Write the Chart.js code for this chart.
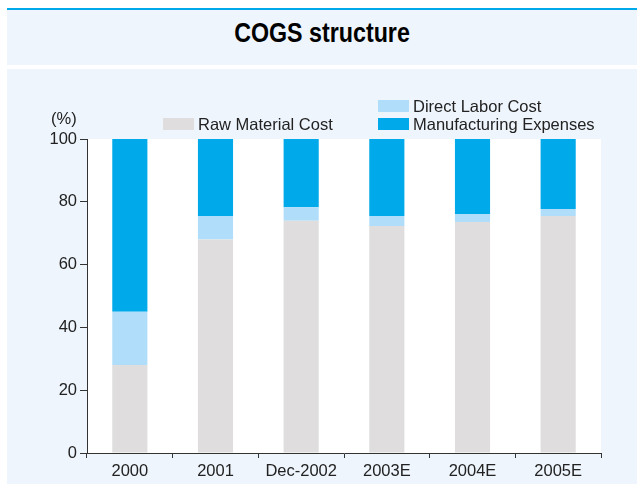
<!DOCTYPE html>
<html>
<head>
<meta charset="utf-8">
<title>COGS structure</title>
<script src="https://cdn.jsdelivr.net/npm/chart.js@4"></script>
<style>
  body { margin: 0; width: 637px; height: 493px; background: #fff; position: relative; overflow: hidden; font-family: "Liberation Sans", Arial, sans-serif; color: #222; }
  .topline { position: absolute; left: 7px; top: 8px; width: 630px; height: 2px; background: #00a9ea; }
  .titlebox { position: absolute; left: 7px; top: 10px; width: 630px; height: 55px; background: #eef5fc; }
  .title { position: absolute; left: 7px; top: 17px; width: 630px; text-align: center; font-weight: bold; font-size: 28px; line-height: 32px; color: #000; transform: scaleX(0.83); }
  .panel { position: absolute; left: 7px; top: 69px; width: 630px; height: 415px; background: #eef5fc; }
  #wrap { position: absolute; left: 0; top: 0; width: 637px; height: 493px; }
  .unit { position: absolute; left: 51px; top: 108px; font-size: 16.5px; line-height: 20px; }
  .lg { position: absolute; font-size: 16.5px; line-height: 18px; white-space: nowrap; }
  .lg i { position: absolute; left: 0; top: 3px; width: 31px; height: 12px; }
  .lg span { position: absolute; left: 35px; top: 0; }
</style>
</head>
<body>
<div class="topline"></div>
<div class="titlebox"></div>
<div class="title">COGS structure</div>
<div class="panel"></div>
<div id="wrap"><canvas id="cogsChart" width="637" height="493"></canvas></div>
<div class="unit">(%)</div>
<div id="legend"></div>
<script>
  // categories and cost shares (%)
  const years = ['2000', '2001', 'Dec-2002', '2003E', '2004E', '2005E'];
  const rawMaterial = [28, 68, 74, 72.3, 73.6, 75.5];
  const directLabor = [17, 7.5, 4.3, 3.2, 2.5, 2.2];
  const manufacturing = [55, 24.5, 21.7, 24.5, 23.9, 22.3];

  const seriesNames = ['Raw Material Cost', 'Direct Labor Cost', 'Manufacturing Expenses'];
  const seriesColors = ['#dfddde', '#b0defa', '#00a9ea'];

  // legend placed by hand, like in the printed report
  const legendSpots = [[163, 115], [378, 97], [378, 115]];
  const legendBox = document.getElementById('legend');
  seriesNames.forEach((name, i) => {
    const el = document.createElement('div');
    el.className = 'lg';
    el.style.left = legendSpots[i][0] + 'px';
    el.style.top = legendSpots[i][1] + 'px';
    el.innerHTML = `<i style="background:${seriesColors[i]}"></i><span>${name}</span>`;
    legendBox.appendChild(el);
  });

  // white plotting area behind the bars
  const plotBackground = {
    id: 'plotBackground',
    beforeDraw(chart) {
      const { ctx, chartArea } = chart;
      ctx.save();
      ctx.fillStyle = '#ffffff';
      ctx.fillRect(chartArea.left, chartArea.top, chartArea.right - chartArea.left, chartArea.bottom - chartArea.top);
      ctx.restore();
    }
  };

  const tickFont = { family: '"Liberation Sans", Arial, sans-serif', size: 16.5 };

  new Chart(document.getElementById('cogsChart'), {
    type: 'bar',
    data: {
      labels: years,
      datasets: [
        { label: seriesNames[0], data: rawMaterial, backgroundColor: seriesColors[0] },
        { label: seriesNames[1], data: directLabor, backgroundColor: seriesColors[1] },
        { label: seriesNames[2], data: manufacturing, backgroundColor: seriesColors[2] }
      ]
    },
    options: {
      responsive: false,
      animation: false,
      layout: { padding: { top: 139, right: 36, bottom: 0, left: 0 } },
      datasets: { bar: { barPercentage: 0.41, categoryPercentage: 1 } },
      plugins: { legend: { display: false }, tooltip: { enabled: false } },
      scales: {
        x: {
          stacked: true,
          grid: { offset: true, drawOnChartArea: false, tickLength: 5, color: '#333' },
          border: { color: '#333', width: 1 },
          ticks: { color: '#222', font: tickFont, padding: 4, maxRotation: 0 },
          afterFit(scale) { scale.height = 40; }
        },
        y: {
          stacked: true,
          min: 0,
          max: 100,
          grid: { drawOnChartArea: false, tickLength: 7, color: '#333' },
          border: { color: '#333', width: 1 },
          ticks: { stepSize: 20, color: '#222', font: tickFont, padding: 3 },
          afterFit(scale) { scale.width = 87; }
        }
      }
    },
    plugins: [plotBackground]
  });
</script>
</body>
</html>
